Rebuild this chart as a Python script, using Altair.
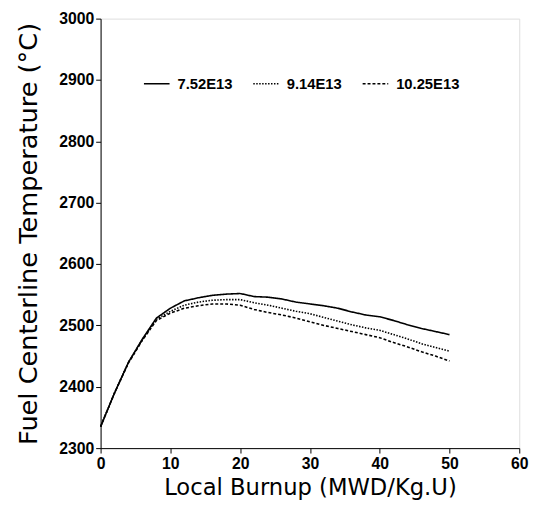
import altair as alt
import pandas as pd

burnup = [0, 2, 4, 6, 8, 10, 12, 14, 16, 18, 20, 22, 24, 26, 28, 30, 32, 34, 36, 38, 40, 42, 44, 46, 48, 50]
t_752 = [2335, 2390, 2440, 2478, 2512, 2528, 2540, 2545, 2549, 2551, 2552, 2547, 2546, 2543, 2538, 2535,
         2532, 2528, 2522, 2517, 2514, 2508, 2501, 2495, 2490, 2485]
t_914 = [2335, 2390, 2440, 2477, 2510, 2523, 2533, 2538, 2541, 2542, 2542, 2537, 2533, 2528, 2523, 2519,
         2513, 2507, 2501, 2496, 2492, 2485, 2478, 2470, 2464, 2458]
t_1025 = [2335, 2390, 2439, 2476, 2508, 2520, 2528, 2532, 2535, 2535, 2533, 2526, 2521, 2517, 2512, 2506,
          2500, 2495, 2490, 2485, 2480, 2472, 2465, 2457, 2450, 2442]
series = ["7.52E13", "9.14E13", "10.25E13"]

rows = []
for name, vals in zip(series, [t_752, t_914, t_1025]):
    for b, t in zip(burnup, vals):
        rows.append({"burnup": b, "temp": t, "series": name})
df = pd.DataFrame(rows)

font = "Liberation Sans"
tfont = "DejaVu Sans"

chart = alt.Chart(df).mark_line(strokeWidth=1.6, color="black").encode(
    x=alt.X("burnup:Q", scale=alt.Scale(domain=[0, 60], nice=False),
            axis=alt.Axis(title="Local Burnup (MWD/Kg.U)", values=[0, 10, 20, 30, 40, 50, 60],
                          format="d", grid=False, domain=True, domainColor="black",
                          tickColor="black", tickSize=5, labelFontSize=16, labelFontWeight="bold",
                          labelColor="black", labelFont=font, labelFlush=False,
                          titleFont=tfont, titleFontSize=23, titleFontWeight="normal",
                          titleColor="black", titlePadding=5, labelPadding=3)),
    y=alt.Y("temp:Q", scale=alt.Scale(domain=[2300, 3000], nice=False),
            axis=alt.Axis(title="Fuel Centerline Temperature (°C)",
                          values=[2300, 2400, 2500, 2600, 2700, 2800, 2900, 3000],
                          format="d", grid=False, domain=True, domainColor="black",
                          tickColor="black", tickSize=5, labelFontSize=16, labelFontWeight="bold",
                          labelColor="black", labelFont=font, labelFlush=False,
                          titleFont=tfont, titleFontSize=26, titleFontWeight="normal",
                          titleColor="black", titlePadding=17, labelPadding=2)),
    strokeDash=alt.StrokeDash("series:N", sort=series,
                              scale=alt.Scale(domain=series, range=[[1, 0], [1.5, 1.5], [3, 2]]),
                              legend=alt.Legend(title=None, orient="none", direction="horizontal",
                                                legendX=43, legendY=52, symbolType="stroke",
                                                symbolSize=676, symbolStrokeColor="black",
                                                symbolStrokeWidth=1.5, labelFont=font,
                                                labelFontSize=15, labelFontWeight="bold",
                                                labelColor="black", columnPadding=18,
                                                labelOffset=7)),
).properties(
    width=425, height=436,
    autosize=alt.AutoSizeParams(type="none"),
    padding={"left": 94, "top": 7, "right": 18, "bottom": 57},
).configure_view(stroke="black", strokeWidth=1.2).configure(background="white")

chart.save("out.html", embed_options={"renderer": "svg", "actions": False})
